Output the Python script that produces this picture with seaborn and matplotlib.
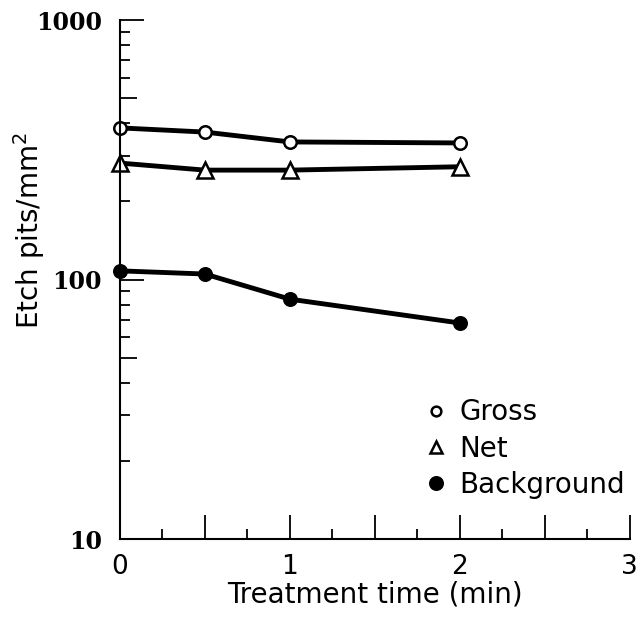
import pandas as pd
import matplotlib.pyplot as plt
import matplotlib.ticker as mticker
import seaborn as sns

# Data
time_min = [0, 0.5, 1, 2]
gross = [384, 370, 339, 336]
net = [281, 264, 264, 272]
background = [108, 105, 84, 68]

y_major = [10, 50, 100, 500, 1000]
y_minor = [20, 30, 40, 60, 70, 80, 90, 200, 300, 400, 600, 700, 800, 900]

df = pd.DataFrame({
    "time": time_min * 3,
    "pits": gross + net + background,
    "kind": ["Gross"] * 4 + ["Net"] * 4 + ["Background"] * 4,
})

sns.set_style("ticks")
plt.rcParams["font.family"] = ["DejaVu Sans"]
plt.rcParams.update({"text.color": "black", "axes.labelcolor": "black",
                     "xtick.color": "black", "ytick.color": "black"})

fig = plt.figure(figsize=(6.4, 6.2), dpi=100)
ax = fig.add_axes([0.1875, 0.1306, 0.7965, 0.8371])

styles = {
    "Gross": dict(marker="o", mfc="white", ms=9, lms=7),
    "Net": dict(marker="^", mfc="white", ms=11, lms=9),
    "Background": dict(marker="o", mfc="black", ms=9, lms=9),
}
for kind, st in styles.items():
    sub = df[df["kind"] == kind]
    sns.lineplot(data=sub, x="time", y="pits", ax=ax, color="black",
                 linewidth=3.5, marker=st["marker"], markersize=st["ms"],
                 markerfacecolor=st["mfc"], markeredgecolor="black",
                 markeredgewidth=1.8, label=kind, clip_on=False)

ax.set_yscale("log")
ax.set_xlim(0, 3)
ax.set_ylim(10, 1000)

ax.xaxis.set_major_locator(mticker.MultipleLocator(0.5))
ax.xaxis.set_minor_locator(mticker.MultipleLocator(0.25))
ax.xaxis.set_major_formatter(mticker.FuncFormatter(
    lambda v, p: f"{int(v)}" if abs(v - round(v)) < 1e-9 else ""))
ax.yaxis.set_major_locator(mticker.FixedLocator(y_major))
ax.yaxis.set_minor_locator(mticker.FixedLocator(y_minor))
ax.yaxis.set_minor_formatter(mticker.NullFormatter())
ax.yaxis.set_major_formatter(mticker.FuncFormatter(
    lambda v, p: f"{int(round(v))}" if v in (10, 100, 1000) else ""))

ax.tick_params(axis="both", which="major", direction="in", length=17, width=1.3)
ax.tick_params(axis="both", which="minor", direction="in", length=7, width=1.3)
ax.tick_params(axis="x", labelsize=19, pad=11)
ax.tick_params(axis="y", pad=13)
for lab in ax.get_yticklabels():
    lab.set_family("DejaVu Serif")
    lab.set_fontweight("bold")
    lab.set_fontsize(17)
# the 50 and 500 ticks are shorter than the decade ticks
for t, v in zip(ax.yaxis.get_major_ticks(), y_major):
    if v in (50, 500):
        t.tick1line.set_markersize(12)

sns.despine(ax=ax)
for s in ["left", "bottom"]:
    ax.spines[s].set_linewidth(1.5)
    ax.spines[s].set_color("black")

ax.set_xlabel("Treatment time (min)", fontsize=20, labelpad=0)
ax.set_ylabel("Etch pits/mm$^2$", fontsize=20)
ax.yaxis.set_label_coords(-0.143, 0.595)

leg = ax.legend(loc="upper left", bbox_to_anchor=(0.57, 0.298), frameon=False,
                fontsize=20, handlelength=0.8, handletextpad=0.45,
                labelspacing=0.3, borderpad=0)
for h, st in zip(leg.legend_handles, styles.values()):
    h.set_linestyle("none")
    h.set_markersize(st["lms"])

fig.savefig("out.png", dpi=100)
